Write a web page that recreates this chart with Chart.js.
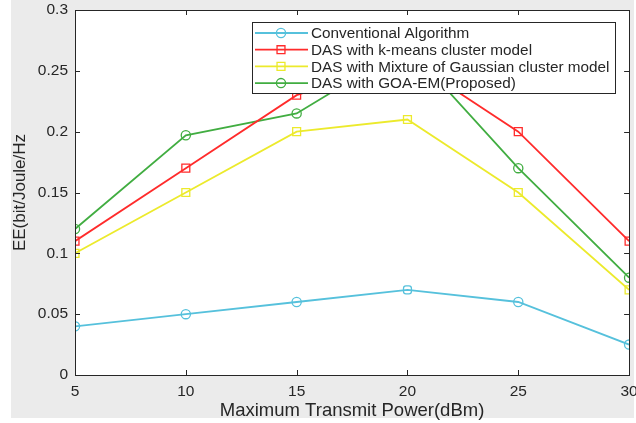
<!DOCTYPE html>
<html>
<head>
<meta charset="utf-8">
<script src="https://cdn.jsdelivr.net/npm/chart.js"></script>
<style>
    html, body { margin: 0; padding: 0; background: #ffffff; }
    #wrap { width: 636px; height: 423px; position: relative; }
</style>
</head>
<body>
<div id="wrap"><canvas id="eeChart"></canvas></div>
<script>
// values
const powerLevels = [5, 10, 15, 20, 25, 30];
const conventional = [0.04, 0.05, 0.06, 0.07, 0.06, 0.025];
const kmeans = [0.11, 0.17, 0.23, 0.26, 0.20, 0.11];
const gaussianMix = [0.10, 0.15, 0.20, 0.21, 0.15, 0.07];
const goaEm = [0.12, 0.197, 0.215, 0.27, 0.17, 0.08];
const yTicks = [0, 0.05, 0.1, 0.15, 0.2, 0.25, 0.3];

const seriesNames = [
    "Conventional Algorithm",
    "DAS with k-means cluster model",
    "DAS with Mixture of Gaussian cluster model",
    "DAS with GOA-EM(Proposed)"
];

const FONT = "'Liberation Sans', Arial, sans-serif";
const TEXT = "#262626";

function toPoints(values) {
    return values.map((v, i) => ({ x: powerLevels[i], y: v }));
}

function makeSet(label, values, color, style, radius) {
    return {
        label: label,
        data: toPoints(values),
        borderColor: color,
        backgroundColor: "transparent",
        borderWidth: 1.8,
        pointStyle: style,
        pointRadius: radius,
        pointBorderWidth: 1.3,
        pointBorderColor: color,
        pointBackgroundColor: "transparent",
        tension: 0
    };
}

// figure background + white axes area
const backdrop = {
    id: "backdrop",
    beforeDraw(chart) {
        const ctx = chart.ctx;
        const a = chart.chartArea;
        ctx.save();
        ctx.fillStyle = "#ebebeb";
        ctx.fillRect(11, 0, 623, 418);
        ctx.fillStyle = "#ffffff";
        ctx.fillRect(a.left, a.top, a.right - a.left, a.bottom - a.top);
        ctx.restore();
    }
};

// MATLAB style box with inward ticks on all sides
const axesBox = {
    id: "axesBox",
    afterDatasetsDraw(chart) {
        const ctx = chart.ctx;
        const a = chart.chartArea;
        const xs = chart.scales.x;
        const ys = chart.scales.y;
        ctx.save();
        ctx.strokeStyle = TEXT;
        ctx.lineWidth = 1;
        ctx.beginPath();
        powerLevels.forEach(p => {
            const px = Math.round(xs.getPixelForValue(p)) + 0.5;
            ctx.moveTo(px, a.bottom); ctx.lineTo(px, a.bottom - 5);
            ctx.moveTo(px, a.top); ctx.lineTo(px, a.top + 5);
        });
        yTicks.forEach(t => {
            const py = Math.round(ys.getPixelForValue(t)) + 0.5;
            ctx.moveTo(a.left, py); ctx.lineTo(a.left + 5, py);
            ctx.moveTo(a.right, py); ctx.lineTo(a.right - 5, py);
        });
        ctx.stroke();
        ctx.strokeRect(Math.round(a.left) + 0.5, Math.round(a.top) + 0.5,
            Math.round(a.right - a.left), Math.round(a.bottom - a.top));
        ctx.restore();
    }
};

// legend drawn inside the axes, over the lines
const boxLegend = {
    id: "boxLegend",
    afterDatasetsDraw(chart) {
        const ctx = chart.ctx;
        const x0 = 252, y0 = 22, w = 363, h = 71;
        ctx.save();
        ctx.fillStyle = "#ffffff";
        ctx.fillRect(x0, y0, w, h);
        ctx.strokeStyle = TEXT;
        ctx.lineWidth = 1;
        ctx.strokeRect(x0 + 0.5, y0 + 0.5, w, h);
        ctx.font = "15.3px " + FONT;
        ctx.textBaseline = "middle";
        chart.data.datasets.forEach((ds, i) => {
            const y = y0 + 11 + i * 16.7;
            ctx.strokeStyle = ds.borderColor;
            ctx.lineWidth = ds.borderWidth;
            ctx.beginPath();
            ctx.moveTo(x0 + 3, y);
            ctx.lineTo(x0 + 56, y);
            ctx.stroke();
            ctx.lineWidth = ds.pointBorderWidth;
            ctx.fillStyle = "rgba(0,0,0,0)";
            const style = Array.isArray(ds.pointStyle) ? ds.pointStyle[0] : ds.pointStyle;
            Chart.helpers.drawPoint(ctx, {
                pointStyle: style, radius: ds.pointRadius, borderWidth: ds.pointBorderWidth
            }, x0 + 29, y);
            ctx.fillStyle = TEXT;
            ctx.fillText(ds.label, x0 + 59, y + 1);
        });
        ctx.restore();
    }
};

const ctx = document.getElementById("eeChart").getContext("2d");

new Chart(ctx, {
    type: "line",
    data: {
        datasets: [
            makeSet(seriesNames[0], conventional, "#56c1dc",
                ["circle", "circle", "circle", "rectRounded", "circle", "circle"], 4.6),
            makeSet(seriesNames[1], kmeans, "#ff2b2b", "rect", 5.6),
            makeSet(seriesNames[2], gaussianMix, "#ecea2c", "rect", 5.6),
            makeSet(seriesNames[3], goaEm, "#41ad41", "circle", 4.6)
        ]
    },
    options: {
        responsive: true,
        maintainAspectRatio: false,
        animation: false,
        layout: { padding: { left: 0, top: 10, right: 5, bottom: 0 } },
        plugins: {
            legend: { display: false },
            tooltip: { enabled: false }
        },
        scales: {
            x: {
                type: "linear",
                min: 5,
                max: 30,
                afterBuildTicks: s => { s.ticks = powerLevels.map(v => ({ value: v })); },
                afterFit: s => { s.height = 48; s.paddingLeft = 0; s.paddingRight = 0; },
                grid: { display: false, drawTicks: false },
                border: { display: false },
                ticks: {
                    padding: 7,
                    color: TEXT,
                    maxRotation: 0,
                    font: { family: FONT, size: 15.5 }
                },
                title: {
                    display: true,
                    text: "Maximum Transmit Power(dBm)",
                    color: TEXT,
                    padding: { top: 0, bottom: 1 },
                    font: { family: FONT, size: 18.5 }
                }
            },
            y: {
                min: 0,
                max: 0.3,
                afterBuildTicks: s => { s.ticks = yTicks.map(v => ({ value: v })); },
                afterFit: s => { s.width = 75; s.paddingTop = 0; s.paddingBottom = 0; },
                grid: { display: false, drawTicks: false },
                border: { display: false },
                ticks: {
                    padding: 7,
                    color: TEXT,
                    font: { family: FONT, size: 15.5 },
                    callback: v => String(+v.toFixed(2))
                },
                title: {
                    display: true,
                    text: "EE(bit/Joule/Hz",
                    color: TEXT,
                    padding: { top: 10, bottom: 0 },
                    font: { family: FONT, size: 17 }
                }
            }
        }
    },
    plugins: [backdrop, axesBox, boxLegend]
});
</script>
</body>
</html>
